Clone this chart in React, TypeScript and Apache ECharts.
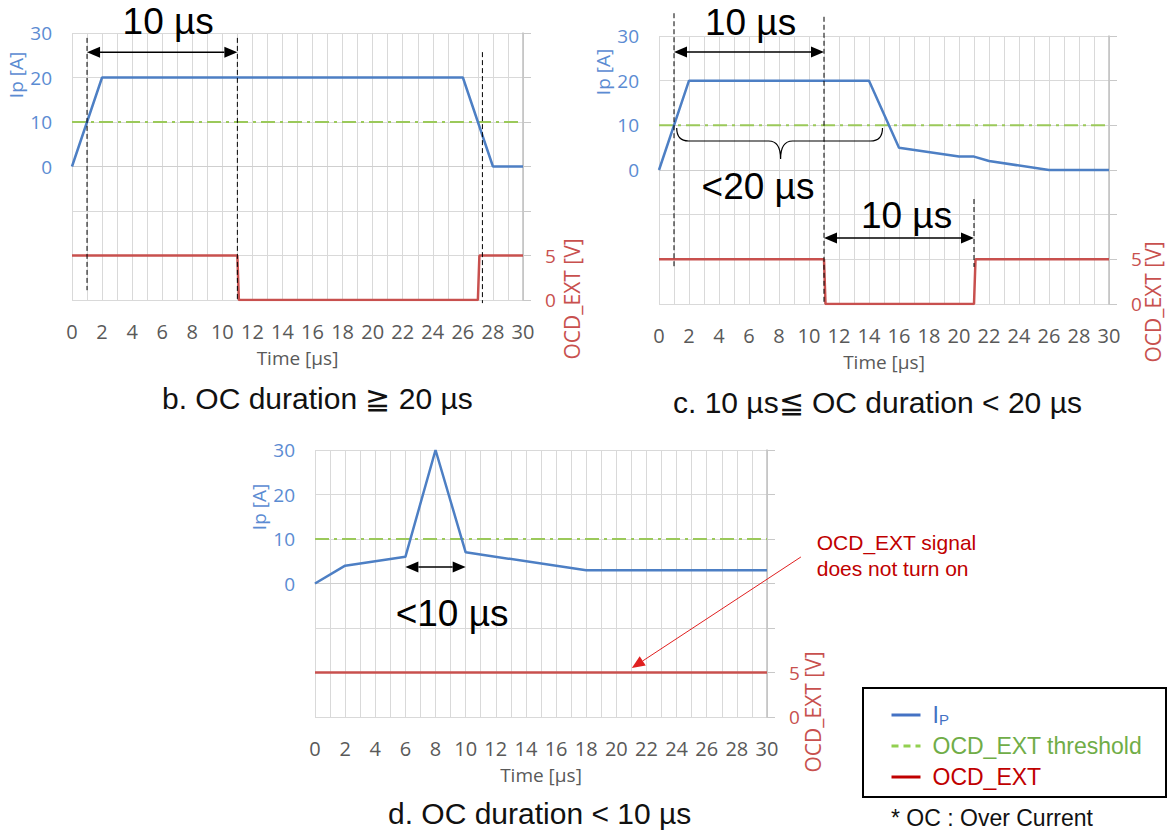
import React, { useEffect, useRef } from "react";
import * as echarts from "echarts";

// ---------- data ----------
const timeRange = [0, 30];
const ipTickLabels = [0, 10, 20, 30];
const ocdTickLabels = [0, 5];

// b. OC duration >= 20 us
const timeB = [0, 2, 26, 28, 30];
const ipB = [0, 20, 20, 0, 0];
const ocdTimeB = [0, 11, 11.1, 27, 27.1, 30];
const ocdB = [5, 5, 0, 0, 5, 5];

// c. 10 us <= OC duration < 20 us
const timeC = [0, 2, 14, 16, 20, 21, 22, 26, 30];
const ipC = [0, 20, 20, 5, 3, 3, 2, 0, 0];
const ocdTimeC = [0, 11, 11.1, 21, 21.1, 30];
const ocdC = [5, 5, 0, 0, 5, 5];

// d. OC duration < 10 us
const timeD = [0, 2, 6, 8, 10, 18, 30];
const ipD = [0, 4, 6, 30, 7, 3, 3];
const ocdTimeD = [0, 30];
const ocdD = [5, 5];

const thresholdTime = [0, 30];
const thresholdValue = [10, 10];

const captions = [
  "b. OC duration ≧ 20 µs",
  "c. 10 µs≦ OC duration < 20 µs",
  "d. OC duration < 10 µs",
];

// ---------- styles ----------
const BLUE = "#4D7FC4";
const RED = "#C8504E";
const GREEN = "#9BC95A";
const GRIDC = "#D9D9D9";
const AXIS_FONT = "Open Sans";
const ANN_FONT = "Liberation Sans";

const grids = [
  { left: 72, top: 33, width: 451, height: 267 },
  { left: 659, top: 36, width: 450, height: 268 },
  { left: 315, top: 450, width: 452, height: 267 },
];

const zip = (xs: number[], ys: number[]) => xs.map((x, i) => [x, ys[i]]);

const panels = [
  { t: timeB, ip: ipB, ot: ocdTimeB, o: ocdB },
  { t: timeC, ip: ipC, ot: ocdTimeC, o: ocdC },
  { t: timeD, ip: ipD, ot: ocdTimeD, o: ocdD },
];

export default function App() {
  const ref = useRef<HTMLDivElement>(null);

  useEffect(() => {
    if (!ref.current) return;
    const chart = echarts.init(ref.current, null, { renderer: "svg" });

    const braceD =
      "M0,0 Q0,13 12,13 L92,13 Q104,13 104,31 Q104,13 116,13 L194,13 Q206,13 206,0";
    echarts.graphic.registerShape("brace", echarts.graphic.extendPath(braceD, {}) as any);

    const xAxes: any[] = [];
    const yAxes: any[] = [];
    const series: any[] = [];

    panels.forEach((p, g) => {
      xAxes.push({
        type: "value",
        gridIndex: g,
        min: timeRange[0],
        max: timeRange[1],
        interval: 2,
        name: "Time [µs]",
        nameLocation: "middle",
        nameGap: 48,
        nameTextStyle: { fontSize: 19, color: "#595959", fontFamily: AXIS_FONT, lineHeight: 19 },
        axisLabel: { fontSize: 20, color: "#595959", fontFamily: AXIS_FONT, margin: 21, lineHeight: 20 },
        axisTick: { show: false },
        axisLine: { show: true, lineStyle: { color: "#CFCFCF", width: 1 } },
        splitLine: { show: true, lineStyle: { color: GRIDC, width: 1 } },
        minorTick: { show: false, splitNumber: 2 },
        minorSplitLine: { show: true, lineStyle: { color: GRIDC, width: 1 } },
      });
      yAxes.push({
        type: "value",
        gridIndex: g,
        position: "left",
        min: -30,
        max: 30,
        interval: 10,
        axisLabel: {
          fontSize: 19,
          color: "#5B8BD2",
          fontFamily: AXIS_FONT,
          margin: 20,
          formatter: (v: number) => (ipTickLabels.includes(v) ? String(v) : ""),
        },
        axisLine: { show: false },
        axisTick: { show: false },
        splitLine: {
          show: true,
          lineStyle: {
            color: [GRIDC, GRIDC, GRIDC, "#BFBFBF", GRIDC, GRIDC, GRIDC],
            width: 1,
          },
        },
      });
      yAxes.push({
        type: "value",
        gridIndex: g,
        position: "right",
        min: 0,
        max: 30,
        interval: 5,
        axisLabel: {
          fontSize: 19,
          color: RED,
          fontFamily: AXIS_FONT,
          margin: 22,
          formatter: (v: number) => (ocdTickLabels.includes(v) ? String(v) : ""),
        },
        axisLine: { show: true, lineStyle: { color: "#BFBFBF", width: 1.5 } },
        axisTick: { show: true, length: 8, lineStyle: { color: "#C8C8C8" } },
        splitLine: { show: false },
      });
      series.push(
        {
          name: "Ip",
          type: "line",
          xAxisIndex: g,
          yAxisIndex: 2 * g,
          data: zip(p.t, p.ip),
          symbol: "none",
          lineStyle: { color: BLUE, width: 2.5 },
          itemStyle: { color: BLUE },
          z: 4,
        },
        {
          name: "OCD_EXT threshold",
          type: "line",
          xAxisIndex: g,
          yAxisIndex: 2 * g,
          data: zip(thresholdTime, thresholdValue),
          symbol: "none",
          lineStyle: { color: GREEN, width: 2, type: [14, 5, 3, 5] },
          itemStyle: { color: GREEN },
          z: 3,
        },
        {
          name: "OCD_EXT",
          type: "line",
          xAxisIndex: g,
          yAxisIndex: 2 * g + 1,
          data: zip(p.ot, p.o),
          symbol: "none",
          lineStyle: { color: RED, width: 2.5 },
          itemStyle: { color: RED },
          z: 4,
        }
      );
    });

    const hidden = { opacity: 0, borderWidth: 0 };
    chart.setOption({
      animation: false,
      backgroundColor: "#ffffff",
      grid: grids.map((g) => ({ ...g, containLabel: false })),
      xAxis: xAxes,
      yAxis: yAxes,
      series,
      legend: {
        orient: "vertical",
        left: 885,
        top: 698,
        itemWidth: 29,
        itemHeight: 14,
        itemGap: 7,
        selectedMode: false,
        textStyle: {
          fontSize: 23,
          fontFamily: ANN_FONT,
          lineHeight: 24,
          padding: [0, 0, 0, 7],
          rich: {
            i: { fontSize: 23, fontFamily: ANN_FONT, color: "#4472C4", lineHeight: 24 },
            p: {
              fontSize: 15,
              fontFamily: ANN_FONT,
              color: "#4472C4",
              lineHeight: 13,
              verticalAlign: "bottom",
            },
          },
        },
        formatter: (name: string) => (name === "Ip" ? "{i|I}{p|P}" : name),
        data: [
          {
            name: "Ip",
            textStyle: { color: "#4472C4" },
            itemStyle: hidden,
            lineStyle: { color: "#4472C4", width: 3 },
          },
          {
            name: "OCD_EXT threshold",
            textStyle: { color: "#70AD47" },
            itemStyle: hidden,
            lineStyle: { color: "#92D050", width: 3, type: [7, 5] },
          },
          {
            name: "OCD_EXT",
            textStyle: { color: "#C00000" },
            itemStyle: hidden,
            lineStyle: { color: "#C00000", width: 3 },
          },
        ],
      },
    });

    // ---------- annotations positioned through the chart's own scales ----------
    const P = (g: number, x: number, y: number) =>
      chart.convertToPixel({ seriesIndex: 3 * g }, [x, y]) as number[];

    const els: any[] = [];
    const dashed = (g: number, x: number, y1: number, y2: number) => {
      const a = P(g, x, y1);
      const b = P(g, x, y2);
      els.push({
        type: "line",
        silent: true,
        shape: { x1: a[0], y1: a[1], x2: b[0], y2: b[1] },
        style: { stroke: "#000", lineWidth: 1, lineDash: [5, 3] },
        z: 10,
      });
    };
    const head = (t: number[], ux: number, uy: number, L: number, W: number, color: string) => {
      const nx = -uy;
      const ny = ux;
      return {
        type: "polygon",
        silent: true,
        shape: {
          points: [
            [t[0], t[1]],
            [t[0] - L * ux + (W / 2) * nx, t[1] - L * uy + (W / 2) * ny],
            [t[0] - L * ux - (W / 2) * nx, t[1] - L * uy - (W / 2) * ny],
          ],
        },
        style: { fill: color },
        z: 10,
      };
    };
    const arrowPx = (a: number[], b: number[], dbl: boolean, color: string, lw: number, L: number, W: number) => {
      const dx = b[0] - a[0];
      const dy = b[1] - a[1];
      const len = Math.hypot(dx, dy);
      const ux = dx / len;
      const uy = dy / len;
      const s = dbl ? L : 0;
      els.push({
        type: "line",
        silent: true,
        shape: { x1: a[0] + s * ux, y1: a[1] + s * uy, x2: b[0] - L * ux, y2: b[1] - L * uy },
        style: { stroke: color, lineWidth: lw },
        z: 10,
      });
      els.push(head(b, ux, uy, L, W, color));
      if (dbl) els.push(head(a, -ux, -uy, L, W, color));
    };
    const arrow = (g: number, x1: number, x2: number, y: number) =>
      arrowPx(P(g, x1, y), P(g, x2, y), true, "#000", 1.5, 13, 11);
    const bigText = (g: number, x: number, y: number, text: string) => {
      const p = P(g, x, y);
      els.push({
        type: "text",
        silent: true,
        x: p[0],
        y: p[1],
        style: {
          text,
          fontSize: 37,
          fontFamily: ANN_FONT,
          fill: "#000",
          align: "center",
          verticalAlign: "middle",
        },
        z: 11,
      });
    };

    // panel b
    dashed(0, 1, 28.9, -27.8);
    dashed(0, 11, 28.9, -30);
    dashed(0, 27.3, 25.7, -30.7);
    arrow(0, 1, 11, 25.7);
    bigText(0, 6.4, 32.5, "10 µs");

    // panel c
    dashed(1, 1, 35.1, -22);
    dashed(1, 11, 34.3, -29.8);
    dashed(1, 21, -6.5, -21.7);
    arrow(1, 1, 11, 26.4);
    arrow(1, 11, 21, -15.2);
    bigText(1, 6.1, 33.1, "10 µs");
    bigText(1, 6.6, -3.8, "<20 µs");
    bigText(1, 16.5, -10.1, "10 µs");
    {
      const a = P(1, 1.18, 9.4);
      const b = P(1, 14.9, 9.4);
      els.push({
        type: "brace",
        silent: true,
        x: a[0],
        y: a[1],
        scaleX: (b[0] - a[0]) / 206,
        scaleY: 1,
        style: { stroke: "#000", fill: "none", lineWidth: 1.2 },
        z: 10,
      });
    }

    // panel d
    arrow(2, 6, 10, 3.7);
    bigText(2, 9.1, -6.85, "<10 µs");
    arrowPx(P(2, 32.25, 5.96), P(2, 21.03, -19.0), false, "#E02020", 1, 13, 11);
    {
      const p = P(2, 33.3, 12.2);
      els.push({
        type: "text",
        silent: true,
        x: p[0],
        y: p[1],
        style: {
          text: "OCD_EXT signal\ndoes not turn on",
          fontSize: 21,
          lineHeight: 26,
          fontFamily: ANN_FONT,
          fill: "#C00000",
          align: "left",
          verticalAlign: "top",
        },
        z: 11,
      });
    }

    // axis titles
    const ipTitle = [
      [16, 75],
      [603, 72],
      [259, 507],
    ];
    const ocdTitle = [
      [572, 299],
      [1153, 302],
      [813, 712],
    ];
    ipTitle.forEach(([x, y]) =>
      els.push({
        type: "text",
        silent: true,
        x,
        y,
        rotation: Math.PI / 2,
        style: {
          text: "Ip [A]",
          fontSize: 19,
          fontFamily: AXIS_FONT,
          fill: "#5B8BD2",
          align: "center",
          verticalAlign: "middle",
        },
      })
    );
    ocdTitle.forEach(([x, y]) =>
      els.push({
        type: "text",
        silent: true,
        x,
        y,
        rotation: Math.PI / 2,
        style: {
          text: "OCD_EXT [V]",
          fontSize: 21,
          fontFamily: AXIS_FONT,
          fill: RED,
          align: "center",
          verticalAlign: "middle",
        },
      })
    );

    // captions
    const capPos = [
      [162, 398],
      [673, 402],
      [388, 813],
    ];
    captions.forEach((c, i) =>
      els.push({
        type: "text",
        silent: true,
        x: capPos[i][0],
        y: capPos[i][1],
        style: {
          text: c,
          fontSize: 30,
          fontFamily: ANN_FONT,
          fill: "#111",
          align: "left",
          verticalAlign: "middle",
        },
      })
    );

    // legend frame + footnote
    els.push({
      type: "rect",
      silent: true,
      shape: { x: 863, y: 688, width: 303, height: 109 },
      style: { fill: "none", stroke: "#000", lineWidth: 2 },
    });
    els.push({
      type: "text",
      silent: true,
      x: 891,
      y: 818,
      style: {
        text: "* OC : Over Current",
        fontSize: 23,
        fontFamily: ANN_FONT,
        fill: "#111",
        align: "left",
        verticalAlign: "middle",
      },
    });

    chart.setOption({ graphic: els });

    return () => chart.dispose();
  }, []);

  return (
    <div
      ref={ref}
      style={{ position: "absolute", left: 0, top: 0, width: 1168, height: 831, background: "#fff" }}
    />
  );
}
